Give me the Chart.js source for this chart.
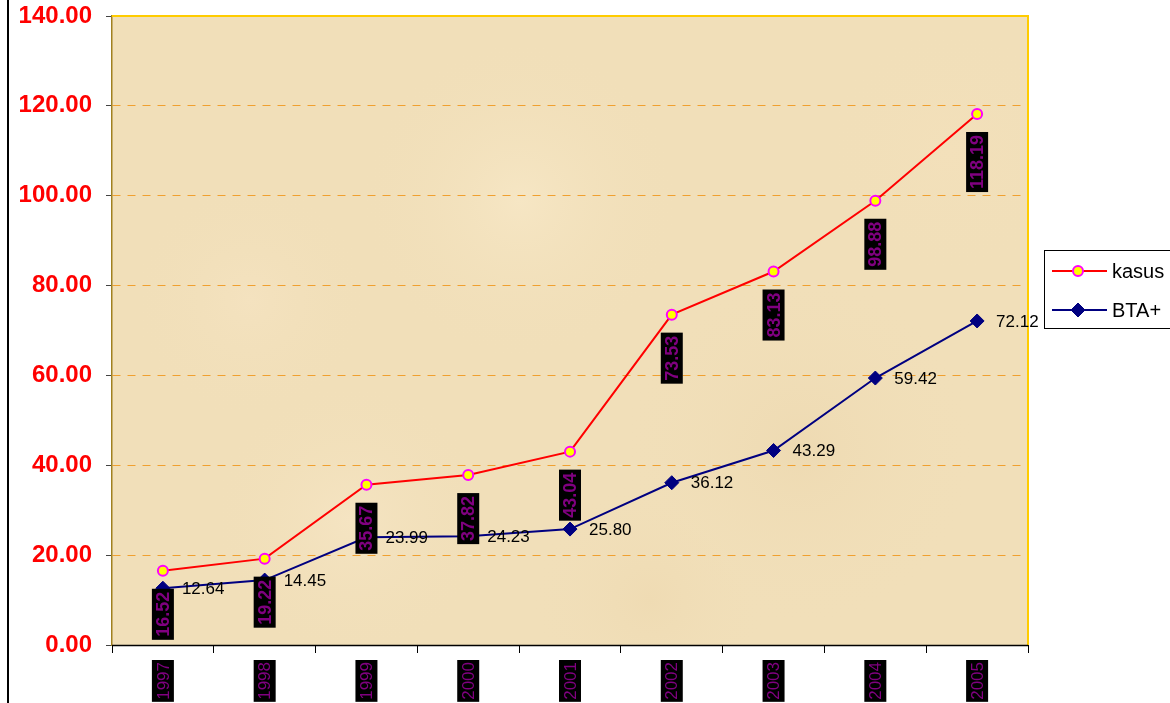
<!DOCTYPE html>
<html>
<head>
<meta charset="utf-8">
<script src="https://cdn.jsdelivr.net/npm/chart.js@4/dist/chart.umd.min.js"></script>
<style>
  html, body { margin: 0; padding: 0; background: #fff; }
  #wrap { width: 1170px; height: 703px; }
</style>
</head>
<body>
<div id="wrap"><canvas id="myChart" width="1170" height="703"></canvas></div>
<script>
var years = ['1997', '1998', '1999', '2000', '2001', '2002', '2003', '2004', '2005']
var kasus = [16.52, 19.22, 35.67, 37.82, 43.04, 73.53, 83.13, 98.88, 118.19]
var bta = [12.64, 14.45, 23.99, 24.23, 25.80, 36.12, 43.29, 59.42, 72.12]
var seriesNames = ['kasus', 'BTA+']

var FONT = "'Liberation Sans', Arial, sans-serif"

// parchment-ish background behind the plot
var blobs = [
    [520, 200, 160, '#f6e6c4'], [800, 450, 180, '#eedab2'], [350, 520, 140, '#f5e4c2'],
    [950, 150, 130, '#f3e0ba'], [650, 600, 120, '#efdbb3'], [250, 300, 120, '#f4e2bf']
]

var paperPlugin = {
    id: 'paper',
    beforeDraw: function (chart) {
        var a = chart.chartArea, ctx = chart.ctx
        ctx.save()
        ctx.fillStyle = '#f1dfb9'
        ctx.fillRect(a.left, a.top, a.right - a.left, a.bottom - a.top)
        ctx.beginPath()
        ctx.rect(a.left, a.top, a.right - a.left, a.bottom - a.top)
        ctx.clip()
        blobs.forEach(function (b) {
            var g = ctx.createRadialGradient(b[0], b[1], 0, b[0], b[1], b[2])
            g.addColorStop(0, b[3])
            g.addColorStop(1, 'rgba(241,223,185,0)')
            ctx.fillStyle = g
            ctx.fillRect(b[0] - b[2], b[1] - b[2], b[2] * 2, b[2] * 2)
        })
        ctx.restore()
        // black line at the far left
        ctx.save()
        ctx.strokeStyle = '#000'
        ctx.lineWidth = 2
        ctx.beginPath()
        ctx.moveTo(8, 0)
        ctx.lineTo(8, chart.height)
        ctx.stroke()
        ctx.restore()
    }
}

function vertBox(ctx, x, top, text, font, padding) {
    ctx.save()
    ctx.font = font
    var w = ctx.measureText(text).width + padding * 2
    ctx.translate(x, top)
    ctx.rotate(-Math.PI / 2)
    ctx.fillStyle = '#000'
    ctx.fillRect(-w, -11, w, 22)
    ctx.fillStyle = '#800080'
    ctx.textAlign = 'right'
    ctx.textBaseline = 'middle'
    ctx.fillText(text, -padding, 1)
    ctx.restore()
}

var labelPlugin = {
    id: 'labels',
    afterDatasetsDraw: function (chart) {
        var ctx = chart.ctx, a = chart.chartArea
        // frame
        ctx.save()
        ctx.strokeStyle = '#ffcc00'
        ctx.lineWidth = 2
        ctx.beginPath()
        ctx.moveTo(a.left, a.top)
        ctx.lineTo(a.right, a.top)
        ctx.lineTo(a.right, a.bottom)
        ctx.stroke()
        ctx.strokeStyle = '#000'
        ctx.lineWidth = 1.5
        ctx.beginPath()
        ctx.moveTo(a.left, a.bottom + 0.5)
        ctx.lineTo(a.right, a.bottom + 0.5)
        ctx.stroke()
        ctx.restore()

        var m0 = chart.getDatasetMeta(0)
        m0.data.forEach(function (pt, i) {
            vertBox(ctx, pt.x, pt.y + 18, kasus[i].toFixed(2), 'bold 18px ' + FONT, 3)
        })
        var m1 = chart.getDatasetMeta(1)
        ctx.save()
        ctx.font = '17px ' + FONT
        ctx.fillStyle = '#000'
        ctx.textBaseline = 'middle'
        m1.data.forEach(function (pt, i) {
            ctx.fillText(bta[i].toFixed(2), pt.x + 19, pt.y + 1)
        })
        ctx.restore()

        var xs = chart.scales.x
        years.forEach(function (y, i) {
            vertBox(ctx, xs.getPixelForValue(i), 660, y, '17px ' + FONT, 2)
        })

        // legend
        ctx.save()
        ctx.fillStyle = '#fff'
        ctx.fillRect(1044, 250, 140, 78)
        ctx.strokeStyle = '#000'
        ctx.lineWidth = 1
        ctx.strokeRect(1044.5, 250.5, 140, 78)
        ctx.font = '20px ' + FONT
        ctx.textBaseline = 'middle'
        var rows = [271, 310]
        chart.data.datasets.forEach(function (ds, i) {
            var y = rows[i]
            ctx.strokeStyle = ds.borderColor
            ctx.lineWidth = 2
            ctx.beginPath()
            ctx.moveTo(1052, y)
            ctx.lineTo(1107, y)
            ctx.stroke()
            ctx.fillStyle = ds.pointBackgroundColor
            ctx.strokeStyle = ds.pointBorderColor
            ctx.lineWidth = ds.pointBorderWidth
            ctx.beginPath()
            if (ds.pointStyle === 'circle') {
                ctx.arc(1078, y, ds.pointRadius, 0, Math.PI * 2)
            } else {
                ctx.moveTo(1078, y - ds.pointRadius)
                ctx.lineTo(1078 + ds.pointRadius, y)
                ctx.lineTo(1078, y + ds.pointRadius)
                ctx.lineTo(1078 - ds.pointRadius, y)
                ctx.closePath()
            }
            ctx.fill()
            ctx.stroke()
            ctx.fillStyle = '#000'
            ctx.fillText(ds.label, 1112, y + 1)
        })
        ctx.restore()
    }
}

var myChart = document.getElementById('myChart').getContext('2d')

var chart = new Chart(myChart, {
    type: 'line',
    data: {
        labels: years,
        datasets: [
            {
                label: seriesNames[0],
                data: kasus,
                borderColor: '#ff0000',
                borderWidth: 2,
                pointStyle: 'circle',
                pointRadius: 5,
                pointBorderWidth: 2,
                pointBorderColor: '#ff00ff',
                pointBackgroundColor: '#ffff00',
                tension: 0
            },
            {
                label: seriesNames[1],
                data: bta,
                borderColor: '#000080',
                borderWidth: 2,
                pointStyle: 'rectRot',
                pointRadius: 7,
                pointBorderWidth: 1,
                pointBorderColor: '#000080',
                pointBackgroundColor: '#000080',
                tension: 0
            }
        ]
    },
    options: {
        responsive: false,
        animation: false,
        layout: { padding: { left: 0, right: 142, top: 16, bottom: 0 } },
        plugins: {
            legend: { display: false },
            tooltip: { enabled: false }
        },
        scales: {
            x: {
                offset: true,
                grid: { offset: true, drawOnChartArea: false, color: '#000', tickLength: 8 },
                border: { display: true, color: '#000', width: 1 },
                ticks: { display: false },
                afterFit: function (s) { s.height = 58; s.paddingLeft = 0; s.paddingRight = 0 }
            },
            y: {
                min: 0,
                max: 140,
                ticks: {
                    stepSize: 20,
                    padding: 14,
                    color: '#ff0000',
                    font: { family: FONT, size: 24, weight: 'bold' },
                    callback: function (v) { return v.toFixed(2) }
                },
                grid: { color: '#f0a030', lineWidth: 1, tickColor: '#444', tickLength: 6, tickBorderDash: [] },
                border: { display: true, color: '#a08020', width: 1.5, dash: [8, 7] },
                afterFit: function (s) { s.width = 112; s.paddingTop = 0; s.paddingBottom = 0 }
            }
        }
    },
    plugins: [paperPlugin, labelPlugin]
})
</script>
</body>
</html>
